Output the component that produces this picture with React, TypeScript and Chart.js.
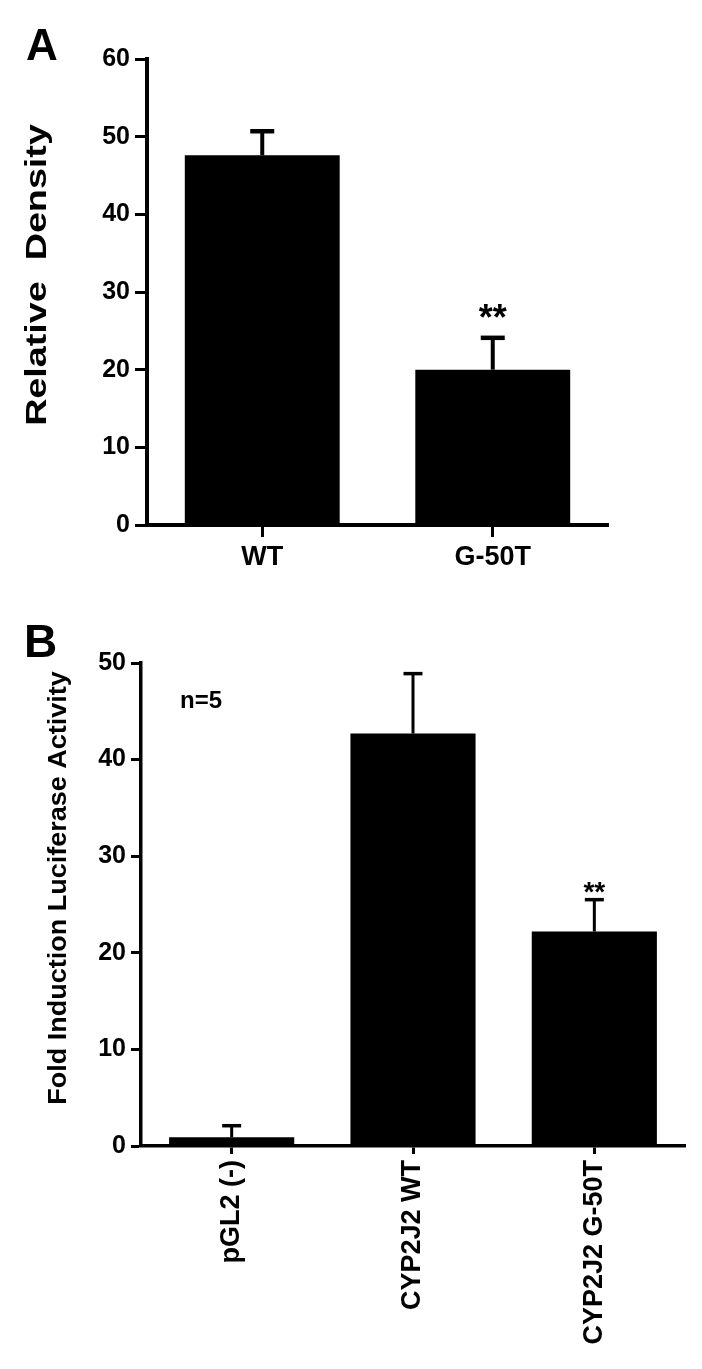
import React, { useEffect, useRef } from "react";
import { Chart, registerables } from "chart.js";

Chart.register(...registerables);

// ---------- Data ----------
const categoriesA = ["WT", "G-50T"];
const valuesA = [47.6, 20.0];
const semA = [3.1, 4.1];
const starsA = ["", "**"];
const yTicksA = [0, 10, 20, 30, 40, 50, 60];

const categoriesB = ["pGL2 (-)", "CYP2J2 WT", "CYP2J2 G-50T"];
const valuesB = [0.9, 42.7, 22.2];
const semB = [1.2, 6.2, 3.3];
const starsB = ["", "", "**"];
const yTicksB = [0, 10, 20, 30, 40, 50];

const FONT = "'Liberation Sans', Arial, Helvetica, sans-serif";

type PanelCfg = {
  categories: string[];
  values: number[];
  sem: number[];
  stars: string[];
  yTicks: number[];
  width: number;
  height: number;
  padTop: number;
  padRight: number;
  yAxisWidth: number;
  xAxisHeight: number;
  axisLineW: number;
  tickLenY: number;
  tickLenX: number;
  xLabelPad: number;
  xLabelSize: number;
  xRotate: number;
  barPct: number;
  capW: number;
  errLineW: number;
  starSize: number;
  starGap: number;
  letter: string;
  letterSize: number;
  letterX: number;
  letterY: number;
  yTitle: string;
  yTitleSize: number;
  yTitleX: number;
  yTitleY: number;
  yTitleStretch: number;
  note?: string;
  noteSize?: number;
  noteX?: number;
  noteY?: number;
};

function makePlugin(cfg: PanelCfg) {
  return {
    id: "panelExtras",
    afterDatasetsDraw(chart: any) {
      const ctx = chart.ctx as CanvasRenderingContext2D;
      const meta = chart.getDatasetMeta(0);
      const y = chart.scales.y;
      const data = chart.data.datasets[0].data as number[];
      meta.data.forEach((bar: any, i: number) => {
        const v = data[i];
        const base = y.getPixelForValue(v);
        const top = y.getPixelForValue(v + cfg.sem[i]);
        const x = bar.x;
        ctx.save();
        ctx.strokeStyle = "#000";
        ctx.lineWidth = cfg.errLineW;
        ctx.lineCap = "butt";
        ctx.beginPath();
        ctx.moveTo(x, base);
        ctx.lineTo(x, top);
        ctx.stroke();
        ctx.lineWidth = cfg.errLineW + 0.5;
        ctx.beginPath();
        ctx.moveTo(x - cfg.capW / 2, top);
        ctx.lineTo(x + cfg.capW / 2, top);
        ctx.stroke();
        if (cfg.stars[i]) {
          ctx.fillStyle = "#000";
          ctx.font = `bold ${cfg.starSize}px ${FONT}`;
          ctx.textAlign = "center";
          ctx.textBaseline = "alphabetic";
          const m = ctx.measureText(cfg.stars[i]);
          const cy = top - cfg.starGap;
          const baseline = cy + (m.actualBoundingBoxAscent - m.actualBoundingBoxDescent) / 2;
          ctx.fillText(cfg.stars[i], x, baseline);
        }
        ctx.restore();
      });
    },
    afterDraw(chart: any) {
      const ctx = chart.ctx as CanvasRenderingContext2D;
      ctx.save();
      ctx.fillStyle = "#000";
      // panel letter
      ctx.font = `bold ${cfg.letterSize}px ${FONT}`;
      ctx.textAlign = "left";
      ctx.textBaseline = "alphabetic";
      ctx.fillText(cfg.letter, cfg.letterX, cfg.letterY);
      // note
      if (cfg.note) {
        ctx.font = `bold ${cfg.noteSize}px ${FONT}`;
        ctx.fillText(cfg.note, cfg.noteX!, cfg.noteY!);
      }
      // y title (rotated, slightly stretched)
      ctx.translate(cfg.yTitleX, cfg.yTitleY);
      ctx.rotate(-Math.PI / 2);
      ctx.scale(cfg.yTitleStretch, 1);
      ctx.font = `bold ${cfg.yTitleSize}px ${FONT}`;
      ctx.textAlign = "center";
      ctx.textBaseline = "middle";
      ctx.fillText(cfg.yTitle, 0, 0);
      ctx.restore();
    },
  };
}

function Panel({ cfg }: { cfg: PanelCfg }) {
  const ref = useRef<HTMLCanvasElement | null>(null);
  useEffect(() => {
    if (!ref.current) return;
    const chart = new Chart(ref.current, {
      type: "bar",
      data: {
        labels: cfg.categories,
        datasets: [
          {
            data: cfg.values,
            backgroundColor: "#000",
            borderWidth: 0,
            categoryPercentage: 1,
            barPercentage: cfg.barPct,
          },
        ],
      },
      options: {
        responsive: false,
        animation: false,
        events: [],
        layout: {
          padding: { top: cfg.padTop, right: cfg.padRight, left: 0, bottom: 0 },
        },
        plugins: {
          legend: { display: false },
          tooltip: { enabled: false },
          title: { display: false },
        },
        scales: {
          x: {
            offset: true,
            grid: {
              offset: false,
              drawOnChartArea: false,
              drawTicks: true,
              tickLength: cfg.tickLenX,
              tickWidth: 3,
              tickColor: "#000",
            },
            border: { display: true, color: "#000", width: cfg.axisLineW },
            ticks: {
              color: "#000",
              autoSkip: false,
              maxRotation: cfg.xRotate,
              minRotation: cfg.xRotate,
              padding: cfg.xLabelPad,
              font: { family: FONT, size: cfg.xLabelSize, weight: "bold" },
            },
            afterFit: (s: any) => {
              s.height = cfg.xAxisHeight;
            },
          },
          y: {
            min: cfg.yTicks[0],
            max: cfg.yTicks[cfg.yTicks.length - 1],
            grid: {
              drawOnChartArea: false,
              drawTicks: true,
              tickLength: cfg.tickLenY,
              tickWidth: 3,
              tickColor: "#000",
            },
            border: { display: true, color: "#000", width: cfg.axisLineW },
            ticks: {
              color: "#000",
              padding: 5,
              font: { family: FONT, size: 25, weight: "bold" },
            },
            afterBuildTicks: (s: any) => {
              s.ticks = cfg.yTicks.map((v) => ({ value: v }));
            },
            afterFit: (s: any) => {
              s.width = cfg.yAxisWidth;
            },
          },
        },
      },
      plugins: [makePlugin(cfg)],
    } as any);
    return () => chart.destroy();
  }, [cfg]);
  return (
    <canvas
      ref={ref}
      width={cfg.width}
      height={cfg.height}
      style={{ display: "block", width: cfg.width, height: cfg.height }}
    />
  );
}

const cfgA: PanelCfg = {
  categories: categoriesA,
  values: valuesA,
  sem: semA,
  stars: starsA,
  yTicks: yTicksA,
  width: 702,
  height: 600,
  padTop: 59,
  padRight: 94,
  yAxisWidth: 147,
  xAxisHeight: 75,
  axisLineW: 4,
  tickLenY: 12,
  tickLenX: 12,
  xLabelPad: 4,
  xLabelSize: 27,
  xRotate: 0,
  barPct: 0.672,
  capW: 24,
  errLineW: 4,
  starSize: 36,
  starGap: 27,
  letter: "A",
  letterSize: 44,
  letterX: 26,
  letterY: 60,
  yTitle: "Relative  Density",
  yTitleSize: 29,
  yTitleX: 38,
  yTitleY: 275,
  yTitleStretch: 1.3,
};

const cfgB: PanelCfg = {
  categories: categoriesB,
  values: valuesB,
  sem: semB,
  stars: starsB,
  yTicks: yTicksB,
  width: 702,
  height: 769,
  padTop: 63,
  padRight: 17,
  yAxisWidth: 141,
  xAxisHeight: 223,
  axisLineW: 3.5,
  tickLenY: 10,
  tickLenX: 8,
  xLabelPad: 6,
  xLabelSize: 27,
  xRotate: 90,
  barPct: 0.69,
  capW: 19,
  errLineW: 3,
  starSize: 28,
  starGap: 12,
  letter: "B",
  letterSize: 46,
  letterX: 24,
  letterY: 57,
  yTitle: "Fold Induction Luciferase Activity",
  yTitleSize: 25,
  yTitleX: 59,
  yTitleY: 288,
  yTitleStretch: 1.08,
  note: "n=5",
  noteSize: 24,
  noteX: 180,
  noteY: 108,
};

export default function App() {
  return (
    <div
      style={{
        position: "absolute",
        left: 0,
        top: 0,
        width: 702,
        height: 1369,
        background: "#fff",
      }}
    >
      <Panel cfg={cfgA} />
      <Panel cfg={cfgB} />
    </div>
  );
}
